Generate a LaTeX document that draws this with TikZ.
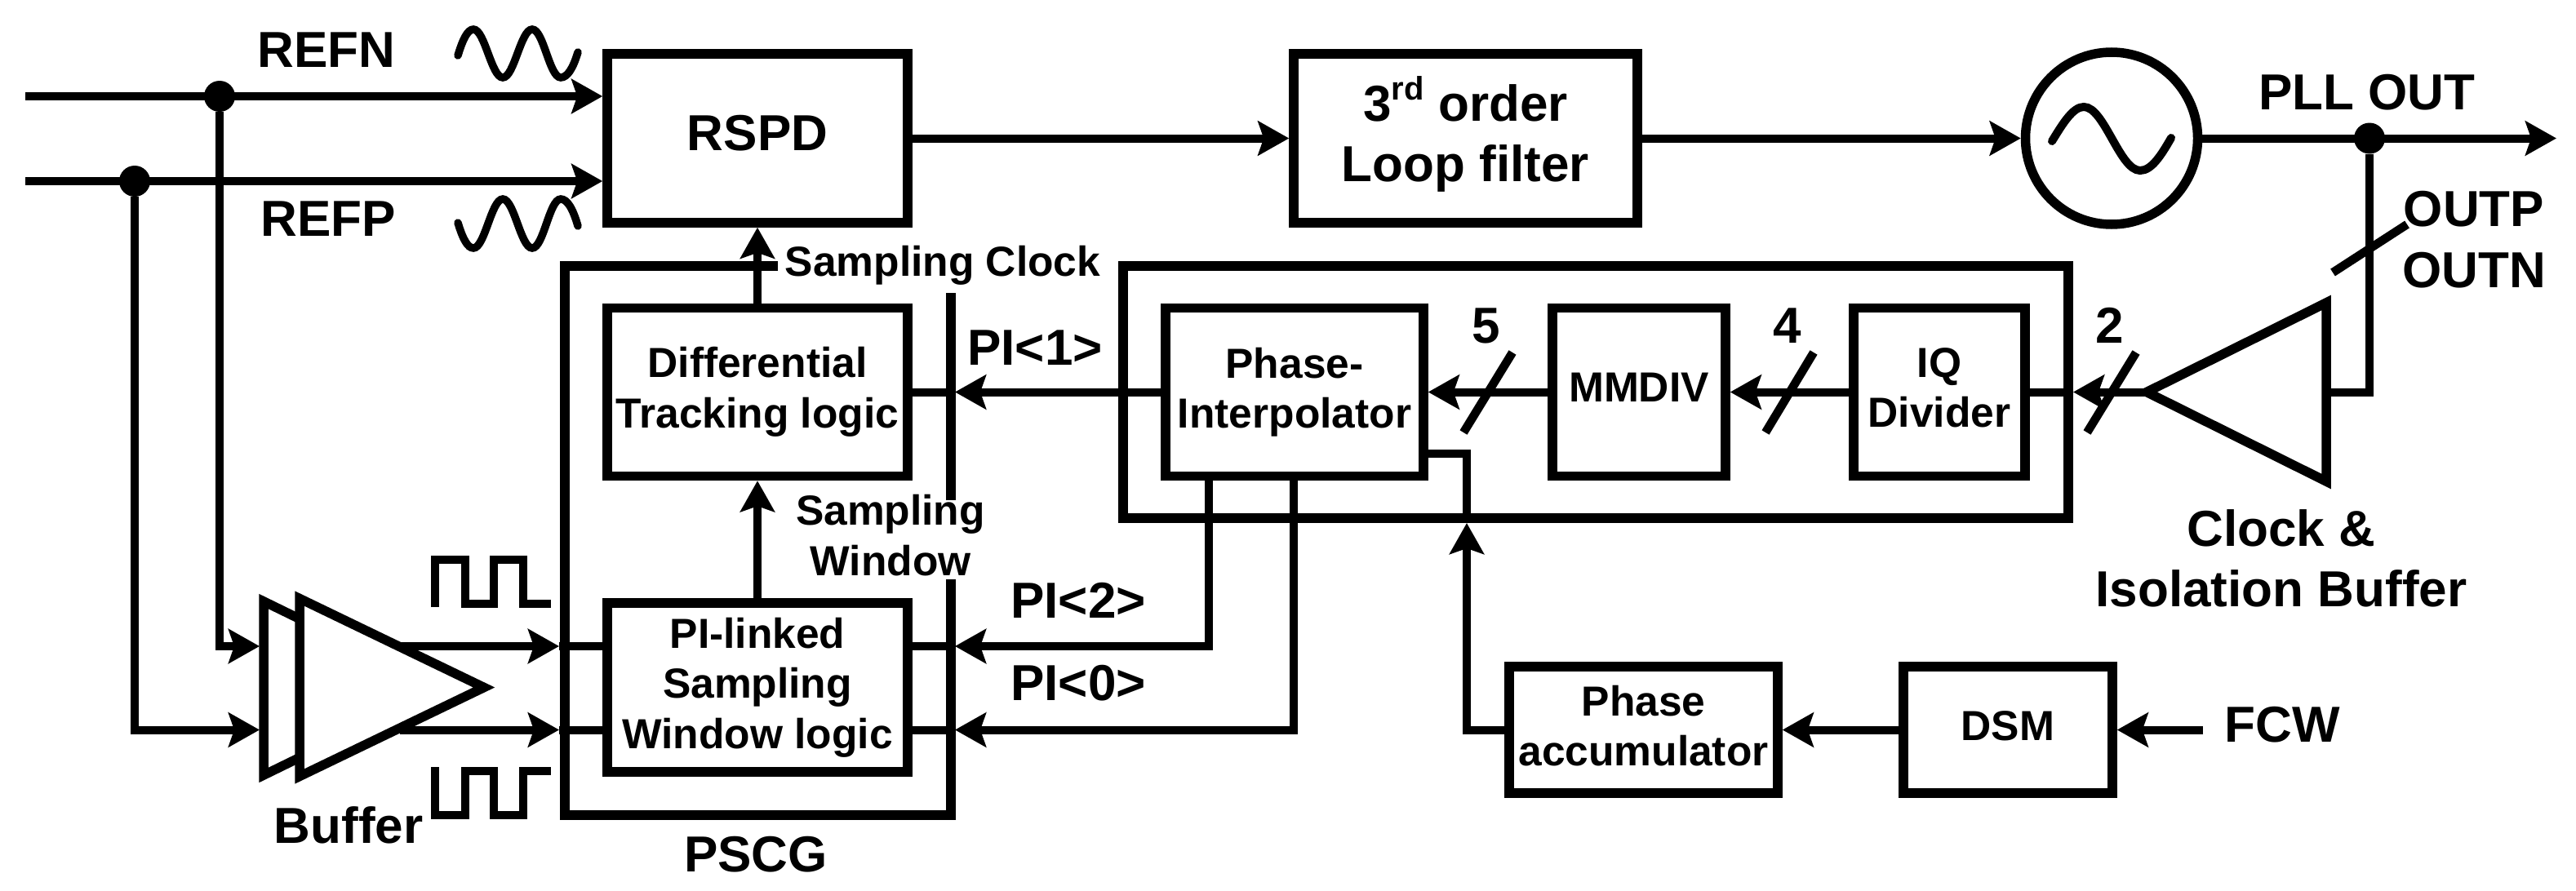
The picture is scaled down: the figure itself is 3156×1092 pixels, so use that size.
\documentclass[tikz,border=0pt]{standalone}
\usepackage{fontspec}
\setmainfont{Liberation Sans}[BoldFont={Liberation Sans Bold}]
\usetikzlibrary{arrows.meta}
\newcommand{\fsS}{\bfseries\fontsize{51.5}{61.5}\selectfont}
\newcommand{\fsL}{\bfseries\fontsize{62}{74}\selectfont}
\newcommand{\lastlinedepth}{\rule[-.21em]{0pt}{.21em}}
\tikzset{
  wire/.style={line width=10pt},
  arr/.style={wire,-{Stealth[length=38pt,width=42pt,inset=7pt]}},
  shape line/.style={line width=11.5pt,miter limit=20},
  blockbox/.style={draw,line width=11.5pt,rectangle,inner sep=0pt,align=center,font=\fsS,
    execute at end node=\lastlinedepth},
  labelS/.style={inner sep=0pt,font=\fsS,anchor=base,align=center},
  labelL/.style={inner sep=0pt,font=\fsL,anchor=base,align=center},
  junction/.style={circle,fill=black,draw=none,minimum size=38pt,inner sep=0pt},
  slashline/.style={line width=10.5pt},
  wave/.style={line width=9.5pt,line cap=round},
  pulse/.style={line width=10pt,miter limit=10},
}
\begin{document}
\begin{tikzpicture}[x=1pt,y=-1pt]
\useasboundingbox (0,0) rectangle (3156,1092);
% blocks
\node[blockbox,minimum width=368pt,minimum height=207pt,font=\fsL] (rspd) at (928,169.5) {RSPD};
\node[blockbox,minimum width=421pt,minimum height=207pt,font=\fsL] (lf) at (1795.5,169.5) {3\smash{\raisebox{26pt}{\fontsize{40}{40}\selectfont rd}} order\\Loop filter};
\node[blockbox,circle,minimum size=211pt] (osc) at (2587,169.5) {};
\node[blockbox,minimum width=368pt,minimum height=206pt] (dt) at (928,480.5) {Differential\\Tracking logic};
\node[blockbox,minimum width=368pt,minimum height=207pt] (sw) at (928,842.5) {PI-linked\\Sampling\\Window logic};
\node[blockbox,minimum width=316pt,minimum height=206pt] (pi) at (1586,480.5) {Phase-\\Interpolator};
\node[blockbox,minimum width=212pt,minimum height=206pt] (mm) at (2008,480.5) {MMDIV};
\node[blockbox,minimum width=210pt,minimum height=206pt] (iq) at (2376,480.5) {IQ\\Divider};
\node[blockbox,minimum width=329pt,minimum height=155pt] (pa) at (2013.5,894.5) {Phase\\accumulator};
\node[blockbox,minimum width=256pt,minimum height=155pt] (dsm) at (2460,894.5) {DSM};
% large enclosures
\coordinate (pscgA) at (953,326); \coordinate (pscgB) at (692,326); \coordinate (pscgC) at (692,999);
\coordinate (pscgD) at (1165,999); \coordinate (pscgE) at (1165,710);
\coordinate (pscgF) at (1165,613); \coordinate (pscgG) at (1165,359);
\draw[shape line] (pscgA) -- (pscgB) -- (pscgC) -- (pscgD) -- (pscgE);
\draw[shape line] (pscgF) -- (pscgG);
\coordinate (ck1) at (1376,326); \coordinate (ck2) at (2534,635);
\draw[shape line] (ck1) rectangle (ck2);
% input buffer
\coordinate (bbT) at (323,737); \coordinate (bbB) at (323,950);
\coordinate (bf1) at (367,733.5); \coordinate (bf2) at (367,951.5); \coordinate (bfA) at (593,842.5);
\draw[shape line] (366,758) -- (bbT) -- (bbB) -- (366,929);
\draw[shape line] (bf1) -- (bfA) -- (bf2) -- cycle;
% clock buffer
\coordinate (cbT) at (2850,371); \coordinate (cbB) at (2850,590); \coordinate (cbA) at (2630,480.5);
\draw[shape line] (cbT) -- (cbA) -- (cbB) -- cycle;
% junctions
\node[junction] (jn) at (269,118) {};
\node[junction] (jp) at (165,222) {};
\node[junction] (jo) at (2903,169.5) {};
% connectors
\coordinate (inN) at (31,118); \coordinate (inP) at (31,222);
\draw[arr] (inN) -- (inN -| rspd.west);
\draw[arr] (inP) -- (inP -| rspd.west);
\coordinate (bufInN) at (318,792); \coordinate (bufInP) at (318,894.5);
\draw[arr] (jn) |- (bufInN);
\draw[arr] (jp) |- (bufInP);
\coordinate (bufOutN) at (490,792); \coordinate (bufOutP) at (490,894.5);
\coordinate (pscgInN) at (685,792); \coordinate (pscgInP) at (685,894.5);
\draw[arr] (bufOutN) -- (pscgInN);
\draw[arr] (bufOutP) -- (pscgInP);
\draw[wire] (pscgInN) -- (pscgInN -| sw.west);
\draw[wire] (pscgInP) -- (pscgInP -| sw.west);
\draw[arr] (rspd.east) -- (lf.west);
\draw[arr] (lf.east) -- (osc.west);
\coordinate (out) at (3132,169.5);
\draw[arr] (osc.east) -- (out);
\coordinate (cbIn) at (2903,480.5); \coordinate (cbR) at (2850,480.5);
\draw[wire] (jo) -- (cbIn) -- (cbR);
\draw[arr] (dt.north) -- (rspd.south);
\draw[arr] (sw.north) -- (dt.south);
% PI outputs
\coordinate (t1) at (1170,480.5); \coordinate (t2) at (1170,792); \coordinate (t0) at (1170,894.5);
\draw[arr] (pi.west) -- (t1);
\draw[wire] (t1) -- (dt.east);
\coordinate (pi2b) at (1481,584); \coordinate (pi0b) at (1585,584);
\draw[arr] (pi2b) |- (t2);
\draw[arr] (pi0b) |- (t0);
\draw[wire] (t2) -- (t2 -| sw.east);
\draw[wire] (t0) -- (t0 -| sw.east);
% divider chain
\draw[arr] (mm.west) -- (pi.east);
\draw[arr] (iq.west) -- (mm.east);
\coordinate (ckEdge) at (2540,480.5);
\draw[arr] (cbA) -- (ckEdge);
\draw[wire] (ckEdge) -- (iq.east);
% phase word
\coordinate (piSide) at (1744,556); \coordinate (piDown) at (1797,636); \coordinate (paTip) at (1797,641);
\coordinate (paL) at (1797,894.5);
\draw[wire] (piSide) -| (piDown);
\draw[arr] (pa.west) -- (paL) -- (paTip);
\draw[arr] (dsm.west) -- (pa.east);
\coordinate (fcw) at (2699,894.5);
\draw[arr] (fcw) -- (dsm.east);
% slashes
\coordinate (s5a) at (1793,530); \coordinate (s5b) at (1853,432);
\coordinate (s4a) at (2163,530); \coordinate (s4b) at (2222,432);
\coordinate (s2a) at (2557,530); \coordinate (s2b) at (2617,432);
\coordinate (soa) at (2858,334); \coordinate (sob) at (2949,275);
\draw[slashline] (s5a) -- (s5b) (s4a) -- (s4b) (s2a) -- (s2b) (soa) -- (sob);
% waveforms
\draw[wave] (561,68) .. controls (567,48) and (573,36) .. (580,36)
  .. controls (594,36) and (602,95) .. (616,95) .. controls (630,95) and (638,36) .. (652,36)
  .. controls (666,36) and (673,95) .. (687,95) .. controls (695,95) and (702,84) .. (708,64);
\draw[wave] (561,273) .. controls (567,293) and (573,304) .. (580,304)
  .. controls (594,304) and (602,244) .. (616,244) .. controls (630,244) and (638,304) .. (652,304)
  .. controls (666,304) and (673,244) .. (687,244) .. controls (695,244) and (702,256) .. (708,277);
\draw[wave,line width=10pt] (2514,173) .. controls (2528,150) and (2540,131) .. (2553,131)
  .. controls (2578,131) and (2597,209) .. (2622,209) .. controls (2636,209) and (2648,190) .. (2660,169);
\draw[pulse] (533,744) -- (533,686) -- (570,686) -- (570,740) -- (605,740) -- (605,686) -- (641,686) -- (641,740) -- (675,740);
\draw[pulse] (533,940) -- (533,999) -- (570,999) -- (570,945) -- (605,945) -- (605,999) -- (641,999) -- (641,945) -- (675,945);
% labels
\node[labelL] (refn) at (400,82) {REFN};
\node[labelL] (refp) at (402,289) {REFP};
\node[labelS] (sclk) at (1155,338) {Sampling Clock};
\node[labelS] (swin) at (1091,705) {Sampling\\Window};
\node[labelL] (pi1) at (1268,447) {PI<1>};
\node[labelL] (pi2) at (1321,757) {PI<2>};
\node[labelL] (pi0) at (1321,858) {PI<0>};
\node[labelL] (n5) at (1821,420) {5};
\node[labelL] (n4) at (2190,420) {4};
\node[labelL] (n2) at (2585,420) {2};
\node[labelL] (pll) at (2900,134) {PLL OUT};
\node[labelL] (outp) at (3031,277) {OUTP};
\node[labelL] (outn) at (3031,352) {OUTN};
\node[labelL] (cib) at (2795,743) {Clock \&\\Isolation Buffer};
\node[labelL] (fcwt) at (2796,909) {FCW};
\node[labelL] (buft) at (427,1033) {Buffer};
\node[labelL] (pscg) at (926,1068) {PSCG};
\end{tikzpicture}
\end{document}
